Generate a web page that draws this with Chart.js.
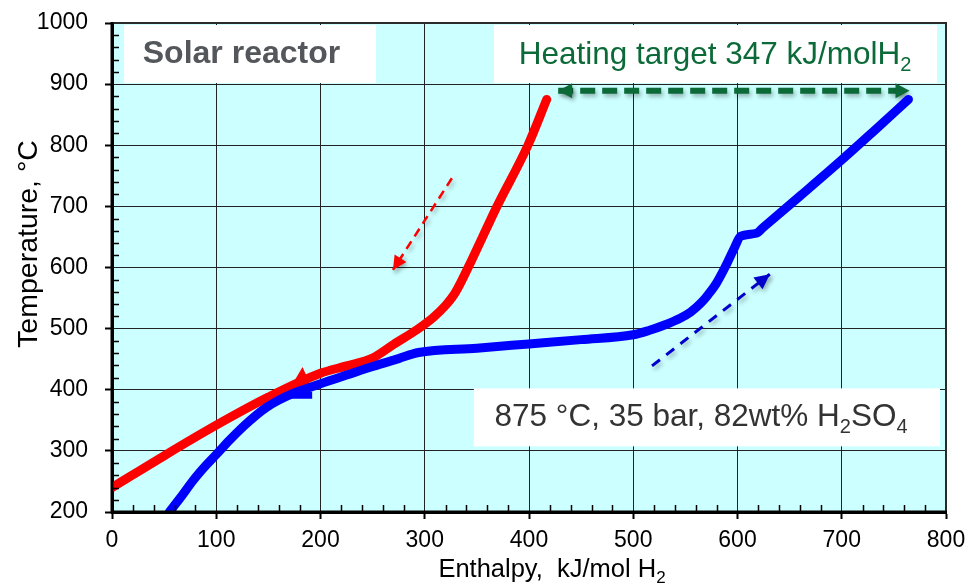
<!DOCTYPE html>
<html><head><meta charset="utf-8">
<script src="https://cdn.jsdelivr.net/npm/chart.js@4.4.1/dist/chart.umd.min.js"></script>
<style>html,body{margin:0;padding:0;background:#fff;}canvas{display:block}</style>
</head><body>
<canvas id="c" width="971" height="584"></canvas>
<script>
// ---- data ----
const xTickValues = [0, 100, 200, 300, 400, 500, 600, 700, 800];
const xTickLabels = ['0', '100', '200', '300', '400', '500', '600', '700', '800'];
const yTickValues = [200, 300, 400, 500, 600, 700, 800, 900, 1000];
const yTickLabels = ['200', '300', '400', '500', '600', '700', '800', '900', '1000'];

// hot stream (red, cooling)
const hotEnthalpy = [0, 50, 100, 150, 200, 225, 250, 270, 294, 308, 320, 329, 345, 369, 399, 417];
const hotTemp     = [240, 292, 342, 388, 427, 439, 452, 474, 500, 518, 538, 558, 612, 699, 800, 875];
// cold stream (blue, heating)
const coldEnthalpy = [55, 65, 78, 90, 100, 113, 126, 138, 148, 160, 171, 185, 200, 225, 250, 275, 294, 350, 400, 450, 500, 515, 530, 545, 555, 565, 572, 580, 590, 597, 603, 618, 625, 660, 700, 730, 764];
const coldTemp     = [200, 222, 252, 276, 294, 318, 340, 358, 371, 383, 392, 401, 410, 424, 438, 451, 461, 468, 475, 482, 490, 497, 506, 517, 527, 542, 556, 575, 607, 632, 651, 656, 666, 717, 776, 822, 875];
// small blue stub under the red arrow head
const coldStubEnthalpy = [170, 192];
const coldStubTemp     = [391, 391];
// arrow head on the red curve (tail -> tip)
const hotHeadEnthalpy = [188, 172];
const hotHeadTemp     = [418, 406];
// dashed direction arrows (tail -> tip)
const hotArrowEnthalpy  = [326, 269.5];
const hotArrowTemp      = [746, 596];
const coldArrowEnthalpy = [518, 631];
const coldArrowTemp     = [439, 589];
// heating target double arrow
const targetEnthalpy = [428, 765];
const targetTemp     = [889, 889];

const pts = (xs, ys) => xs.map((x, i) => ({x: x, y: ys[i]}));

const FONT = "'Liberation Sans', Arial, sans-serif";
const GREEN = '#0b6a37';

function richWidth(ctx, parts, size, weight) {
  let w = 0;
  for (const p of parts) {
    ctx.font = weight + ' ' + (p.sub ? Math.round(size * 0.65) : size) + 'px ' + FONT;
    w += ctx.measureText(p.t).width;
  }
  return w;
}
function drawRich(ctx, parts, x, y, size, weight, color, align) {
  ctx.save();
  ctx.fillStyle = color;
  ctx.textBaseline = 'alphabetic';
  ctx.textAlign = 'left';
  const w = richWidth(ctx, parts, size, weight);
  let cx = align === 'center' ? x - w / 2 : x;
  for (const p of parts) {
    const s = p.sub ? Math.round(size * 0.65) : size;
    ctx.font = weight + ' ' + s + 'px ' + FONT;
    ctx.fillText(p.t, cx, p.sub ? y + size * 0.22 : y);
    cx += ctx.measureText(p.t).width;
  }
  ctx.restore();
}
function head(ctx, tip, from, len, wid, color) {
  const a = Math.atan2(tip.y - from.y, tip.x - from.x);
  ctx.save();
  ctx.translate(tip.x, tip.y);
  ctx.rotate(a);
  ctx.beginPath();
  ctx.moveTo(0, 0);
  ctx.lineTo(-len, -wid / 2);
  ctx.lineTo(-len, wid / 2);
  ctx.closePath();
  ctx.fillStyle = color;
  ctx.fill();
  ctx.restore();
}

const decor = {
  id: 'decor',
  beforeDraw(chart) {
    const {ctx, chartArea: a} = chart;
    ctx.save();
    ctx.fillStyle = '#ccffff';
    ctx.fillRect(a.left, a.top, a.right - a.left, a.bottom - a.top);
    ctx.restore();
  },
  beforeDatasetsDraw(chart) {
    const {ctx} = chart;
    const sx = chart.scales.x, sy = chart.scales.y;
    const boxes = [
      [11.5, 253.3, 996.7, 901.8],
      [366.4, 791.4, 996.7, 901.8],
      [347.1, 794.2, 402.3, 307.4]
    ];
    ctx.save();
    ctx.fillStyle = '#ffffff';
    for (const b of boxes) {
      const x1 = sx.getPixelForValue(b[0]), x2 = sx.getPixelForValue(b[1]);
      const y1 = sy.getPixelForValue(b[2]), y2 = sy.getPixelForValue(b[3]);
      ctx.fillRect(x1, y1, x2 - x1, y2 - y1);
    }
    ctx.restore();
    // texts
    drawRich(ctx, [{t: 'Solar reactor'}], sx.getPixelForValue(29.5), sy.getPixelForValue(934), 32, 'bold', '#53565a', 'left');
    drawRich(ctx, [{t: 'Heating target 347 kJ/molH'}, {t: '2', sub: true}], sx.getPixelForValue(578.5), sy.getPixelForValue(933), 31.5, 'normal', GREEN, 'center');
    drawRich(ctx, [{t: '875 °C, 35 bar, 82wt% H'}, {t: '2', sub: true}, {t: 'SO'}, {t: '4', sub: true}], sx.getPixelForValue(565), sy.getPixelForValue(340), 31.5, 'normal', '#333333', 'center');
  },
  beforeDatasetDraw(chart, args) {
    const ds = chart.data.datasets[args.index];
    const ctx = chart.ctx;
    ctx.save();
    if (ds.shadow) {
      ctx.shadowColor = 'rgba(0,0,0,0.28)';
      ctx.shadowBlur = 4;
      ctx.shadowOffsetX = 2;
      ctx.shadowOffsetY = 3;
    }
  },
  afterDatasetDraw(chart, args) {
    const ds = chart.data.datasets[args.index];
    const ctx = chart.ctx;
    const p = args.meta.data;
    if (ds.headEnd && p.length > 1) {
      const n = p.length;
      head(ctx, {x: p[n - 1].x, y: p[n - 1].y}, {x: p[n - 2].x, y: p[n - 2].y}, ds.headLen, ds.headWid, ds.headColor);
    }
    if (ds.headStart && p.length > 1) {
      head(ctx, {x: p[0].x, y: p[0].y}, {x: p[1].x, y: p[1].y}, ds.headLen, ds.headWid, ds.headColor);
    }
    ctx.restore();
  },
  afterDraw(chart) {
    const {ctx, chartArea: a} = chart;
    const sx = chart.scales.x, sy = chart.scales.y;
    ctx.save();
    // minor ticks (inside)
    ctx.strokeStyle = '#000';
    ctx.lineWidth = 1.5;
    ctx.beginPath();
    for (let v = 0; v <= 800; v += 20) {
      if (v % 100 === 0) continue;
      const x = Math.round(sx.getPixelForValue(v)) + 0.5;
      ctx.moveTo(x, a.bottom);
      ctx.lineTo(x, a.bottom - 7);
    }
    for (let v = 200; v <= 1000; v += 20) {
      if (v % 100 === 0) continue;
      const y = Math.round(sy.getPixelForValue(v)) + 0.5;
      ctx.moveTo(a.left, y);
      ctx.lineTo(a.left + 7, y);
    }
    ctx.stroke();
    // frame
    ctx.strokeStyle = '#2a2a2a';
    ctx.lineWidth = 2;
    ctx.beginPath();
    ctx.moveTo(a.left, a.top);
    ctx.lineTo(a.right, a.top);
    ctx.lineTo(a.right, a.bottom);
    ctx.stroke();
    ctx.strokeStyle = '#000';
    ctx.lineWidth = 3;
    ctx.beginPath();
    ctx.moveTo(a.left, a.top - 1);
    ctx.lineTo(a.left, a.bottom);
    ctx.lineTo(a.right + 1, a.bottom);
    ctx.stroke();
    ctx.restore();
    // axis titles
    drawRich(ctx, [{t: 'Enthalpy,  kJ/mol H'}, {t: '2', sub: true}], 552, 577, 25.5, 'normal', '#000', 'center');
    ctx.save();
    ctx.translate(37, 244);
    ctx.rotate(-Math.PI / 2);
    drawRich(ctx, [{t: 'Temperature, °C'}], 0, 0, 28.5, 'normal', '#000', 'center');
    ctx.restore();
  }
};

const gridCommon = {
  color: '#222222', lineWidth: 1, drawTicks: true, tickLength: 7, tickColor: '#000', tickWidth: 2
};

new Chart(document.getElementById('c'), {
  type: 'scatter',
  data: {
    datasets: [
      {data: pts(coldStubEnthalpy, coldStubTemp), showLine: true, borderColor: '#0000ff', borderWidth: 7, borderCapStyle: 'butt', pointRadius: 0},
      {data: pts(coldEnthalpy, coldTemp), showLine: true, borderColor: '#0000ff', borderWidth: 9, borderCapStyle: 'round', borderJoinStyle: 'round', cubicInterpolationMode: 'monotone', pointRadius: 0, clip: 0},
      {data: pts(hotEnthalpy, hotTemp), showLine: true, borderColor: '#ff0000', borderWidth: 9, borderCapStyle: 'round', borderJoinStyle: 'round', cubicInterpolationMode: 'monotone', pointRadius: 0, clip: 0},
      {data: pts(hotHeadEnthalpy, hotHeadTemp), showLine: false, pointRadius: 0, headEnd: true, headLen: 18, headWid: 26, headColor: '#ff0000'},
      {data: pts(hotArrowEnthalpy, hotArrowTemp), showLine: true, borderColor: '#ff0000', borderWidth: 2.5, borderDash: [9, 6], pointRadius: 0, shadow: true, headEnd: true, headLen: 14, headWid: 14, headColor: '#ff0000'},
      {data: pts(coldArrowEnthalpy, coldArrowTemp), showLine: true, borderColor: '#0000cc', borderWidth: 3, borderDash: [10, 8], pointRadius: 0, shadow: true, headEnd: true, headLen: 15, headWid: 15, headColor: '#0000cc'},
      {data: pts(targetEnthalpy, targetTemp), showLine: true, borderColor: GREEN, borderWidth: 6, borderDash: [15, 7], borderCapStyle: 'butt', pointRadius: 0, shadow: true, headEnd: true, headStart: true, headLen: 14, headWid: 15, headColor: GREEN}
    ]
  },
  options: {
    responsive: false,
    animation: false,
    devicePixelRatio: 1,
    layout: {padding: {left: 0, top: 23, right: 25, bottom: 0}},
    plugins: {legend: {display: false}, tooltip: {enabled: false}},
    scales: {
      x: {
        type: 'linear', min: 0, max: 800,
        afterFit: (s) => { s.height = 72; s.paddingLeft = 0; s.paddingRight = 0; },
        afterBuildTicks: (s) => { s.ticks = xTickValues.map(v => ({value: v})); },
        ticks: {stepSize: 100, color: '#000', font: {family: FONT, size: 23}, padding: 8,
          callback: (v) => xTickLabels[xTickValues.indexOf(v)]},
        grid: gridCommon,
        border: {color: '#000', width: 3}
      },
      y: {
        type: 'linear', min: 200, max: 1000,
        afterFit: (s) => { s.width = 112; s.paddingTop = 0; s.paddingBottom = 0; },
        afterBuildTicks: (s) => { s.ticks = yTickValues.map(v => ({value: v})); },
        ticks: {stepSize: 100, color: '#000', font: {family: FONT, size: 23}, padding: 17,
          callback: (v) => yTickLabels[yTickValues.indexOf(v)]},
        grid: gridCommon,
        border: {color: '#000', width: 3}
      }
    }
  },
  plugins: [decor]
});
</script>
</body></html>
